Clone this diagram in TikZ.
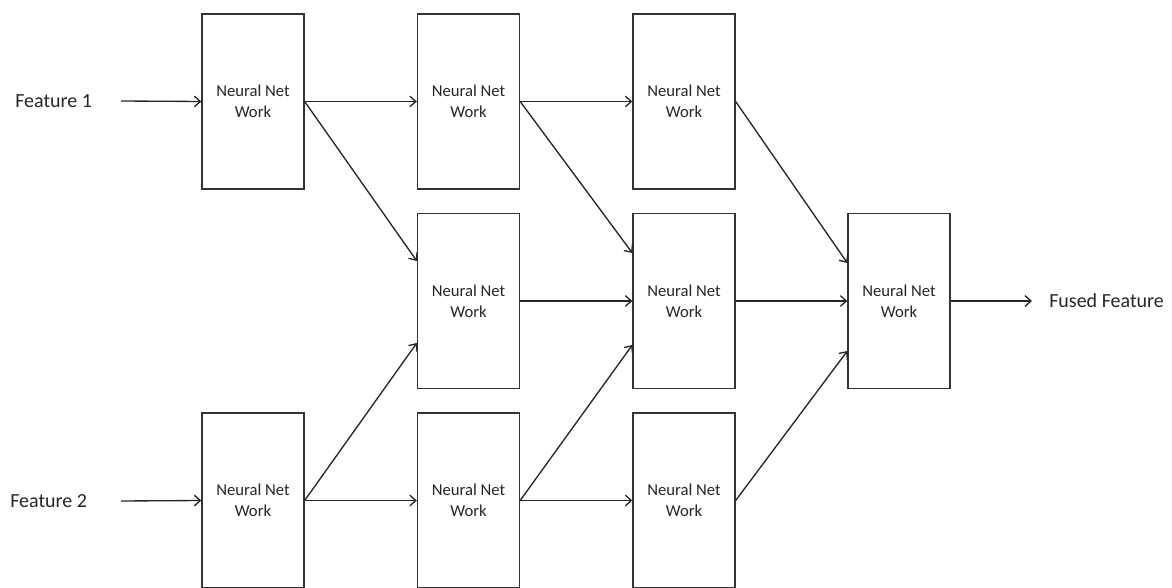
\documentclass[tikz,border=0pt]{standalone}
\usepackage{fontspec}
\setmainfont{Carlito}
\usetikzlibrary{arrows.meta}
\begin{document}
\begin{tikzpicture}[x=0.75pt,y=-0.75pt,
  nnbox/.style={draw=black!80,line width=1pt,minimum width=76.5pt,minimum height=131.25pt,
    inner sep=0pt,align=center,text=black!85,font=\fontsize{12.5}{15.5}\selectfont},
  lbl/.style={text=black!85,font=\fontsize{15}{18}\selectfont,inner sep=0pt},
  conn/.style={draw=black!85,line width=1pt,-{Straight Barb[length=4.5pt,width=8pt,line width=1pt]}}]
\useasboundingbox (0,0) rectangle (1172,588);
% column 1
\node[nnbox] (a1) at (253,101.5) {Neural Net\\Work};
\node[nnbox] (a3) at (253,500.5) {Neural Net\\Work};
% column 2
\node[nnbox] (b1) at (468.5,101.5) {Neural Net\\Work};
\node[nnbox] (b2) at (468.5,301) {Neural Net\\Work};
\node[nnbox] (b3) at (468.5,500.5) {Neural Net\\Work};
% column 3
\node[nnbox] (c1) at (684,101.5) {Neural Net\\Work};
\node[nnbox] (c2) at (684,301) {Neural Net\\Work};
\node[nnbox] (c3) at (684,500.5) {Neural Net\\Work};
% fusion
\node[nnbox] (d2) at (899,301) {Neural Net\\Work};
% inputs and output
\node[lbl,anchor=west] (f1) at (15,101) {Feature 1};
\node[lbl,anchor=west] (f2) at (10,501) {Feature 2};
\node[lbl,anchor=west] (out) at (1049,301) {Fused Feature};
\coordinate (f1e) at (121,101);
\coordinate (f2e) at (121,501);
\coordinate (oute) at (1032,301);
% connectors
\draw[conn] (f1e) -- (a1.west);
\draw[conn] (f2e) -- (a3.west);
\draw[conn] (a1.east) -- (b1.west);
\draw[conn] (a1.east) -- ([yshift=30pt]b2.west);
\draw[conn] (a3.east) -- (b3.west);
\draw[conn] (a3.east) -- ([yshift=-31.5pt]b2.west);
\draw[conn] (b1.east) -- (c1.west);
\draw[conn] (b1.east) -- ([yshift=36pt]c2.west);
\draw[conn] (b2.east) -- (c2.west);
\draw[conn] (b3.east) -- (c3.west);
\draw[conn] (b3.east) -- ([yshift=-33pt]c2.west);
\draw[conn] (c1.east) -- ([yshift=28.5pt]d2.west);
\draw[conn] (c2.east) -- (d2.west);
\draw[conn] (c3.east) -- ([yshift=-37.5pt]d2.west);
\draw[conn] (d2.east) -- (oute);
\end{tikzpicture}
\end{document}
